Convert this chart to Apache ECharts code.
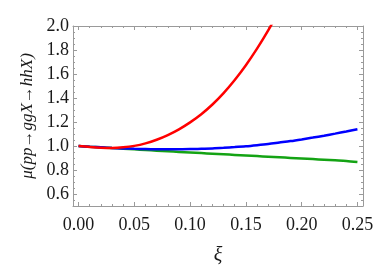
<!DOCTYPE html>
<html><head><meta charset="utf-8">
<script src="https://cdn.jsdelivr.net/npm/echarts@6/dist/echarts.min.js"></script>
<style>html,body{margin:0;padding:0;background:#fff}#c{width:391px;height:277px}</style>
</head><body><div id="c"></div>
<script>
const xiRed = [0,0.01,0.02,0.03,0.04,0.05,0.06,0.07,0.08,0.09,0.10,0.11,0.12,0.13,0.14,0.15,0.16,0.17,0.18];
const muRed = [1.000,0.992,0.986,0.984,0.989,1.001,1.022,1.052,1.091,1.139,1.197,1.265,1.346,1.441,1.550,1.673,1.811,1.963,2.130];
const xi = [0,0.01,0.02,0.03,0.04,0.05,0.06,0.07,0.08,0.09,0.10,0.11,0.12,0.13,0.14,0.15,0.16,0.17,0.18,0.19,0.20,0.21,0.22,0.23,0.24,0.25];
const muBlue = [1.000,0.994,0.989,0.984,0.980,0.977,0.975,0.973,0.972,0.973,0.974,0.977,0.980,0.985,0.991,0.998,1.007,1.017,1.029,1.041,1.055,1.070,1.086,1.103,1.121,1.140];
const muGreen = [1.000,0.994,0.989,0.983,0.978,0.972,0.967,0.961,0.956,0.951,0.946,0.941,0.936,0.931,0.926,0.921,0.916,0.911,0.906,0.901,0.896,0.891,0.886,0.881,0.876,0.867];
const xTicks = [0,0.05,0.10,0.15,0.20,0.25];
const yTicks = [0.6,0.8,1.0,1.2,1.4,1.6,1.8,2.0];

const xMinor = []; for (let i = 0; i <= 25; i++) { if (i % 5) xMinor.push(+(i*0.01).toFixed(2)); }
const yMinor = []; for (let i = 10; i <= 40; i++) { if (i % 4 !== 0) yMinor.push(+(i*0.05).toFixed(2)); }

const frameColor = '#9a9a9a';
const font = 'Liberation Serif';
const XMIN = -0.005, XMAX = 0.255, YMIN = 0.5, YMAX = 2.0;

function xAx(pos, vals, len, labels, line, extra) {
  return Object.assign({
    type: 'value', position: pos, min: XMIN, max: XMAX, gridIndex: 0,
    axisLine: { show: line, onZero: false, lineStyle: { color: frameColor, width: 1 } },
    axisTick: { show: true, inside: true, length: len, customValues: vals, lineStyle: { color: frameColor, width: 1 } },
    axisLabel: labels ? { show: true, customValues: vals, formatter: v => v.toFixed(2), margin: 10,
      fontFamily: font, fontSize: 18, color: '#1a1a1a' } : { show: false },
    splitLine: { show: false }
  }, extra || {});
}
function yAx(pos, vals, len, labels, line, extra) {
  return Object.assign({
    type: 'value', position: pos, min: YMIN, max: YMAX, gridIndex: 0,
    axisLine: { show: line, onZero: false, lineStyle: { color: frameColor, width: 1 } },
    axisTick: { show: true, inside: true, length: len, customValues: vals, lineStyle: { color: frameColor, width: 1 } },
    axisLabel: labels ? { show: true, customValues: vals, formatter: v => v.toFixed(1), margin: 4,
      fontFamily: font, fontSize: 18, color: '#1a1a1a' } : { show: false },
    splitLine: { show: false }
  }, extra || {});
}

const chart = echarts.init(document.getElementById('c'), null, { renderer: 'canvas' });
chart.setOption({
  animation: false,
  backgroundColor: '#fff',
  grid: { left: 73, right: 28, top: 26, bottom: 71, containLabel: false },
  xAxis: [
    xAx('bottom', xTicks, 4, true, true, { name: 'ξ', nameLocation: 'middle', nameGap: 40,
      nameTextStyle: { fontFamily: font, fontStyle: 'italic', fontSize: 20, color: '#1a1a1a' } }),
    xAx('bottom', xMinor, 2, false, false),
    xAx('top', xTicks, 4, false, true),
    xAx('top', xMinor, 2, false, false)
  ],
  yAxis: [
    yAx('left', yTicks, 4, true, true, { name: 'μ(pp→ggX→hhX)', nameLocation: 'middle', nameGap: 33, nameRotate: 90,
      nameTextStyle: { fontFamily: font, fontStyle: 'italic', fontSize: 17, color: '#1a1a1a' } }),
    yAx('left', yMinor, 2, false, false),
    yAx('right', yTicks, 4, false, true),
    yAx('right', yMinor, 2, false, false)
  ],
  series: [
    { type: 'line', xAxisIndex: 0, yAxisIndex: 0, data: xi.map((x, i) => [x, muGreen[i]]), smooth: 0.3,
      showSymbol: false, lineStyle: { color: '#14a314', width: 2.5 }, clip: true },
    { type: 'line', xAxisIndex: 0, yAxisIndex: 0, data: xi.map((x, i) => [x, muBlue[i]]), smooth: 0.3,
      showSymbol: false, lineStyle: { color: '#0000ff', width: 2.5 }, clip: true },
    { type: 'line', xAxisIndex: 0, yAxisIndex: 0, data: xiRed.map((x, i) => [x, muRed[i]]), smooth: 0.3,
      showSymbol: false, lineStyle: { color: '#ff0000', width: 2.5 }, clip: true }
  ]
});
</script>
</body></html>
